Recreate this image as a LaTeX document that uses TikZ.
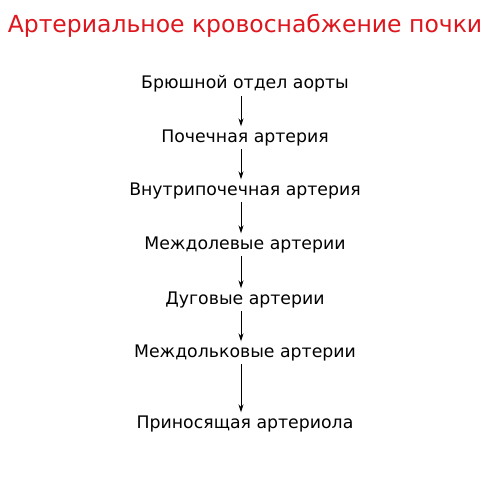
\documentclass[tikz,border=0pt]{standalone}
\usepackage{fontspec}
\setmainfont{DejaVu Sans}
\usetikzlibrary{arrows.meta}
\definecolor{titlered}{RGB}{222,22,30}
\tikzset{
  lbl/.style={font=\fontsize{17.3}{19}\selectfont, text height=12.5pt, text depth=4pt, inner xsep=0pt, inner ysep=3pt, anchor=base},
  conn/.style={-{Stealth[length=8pt,width=5pt]}, line width=0.8pt, black}
}
\begin{document}
\begin{tikzpicture}[x=1pt,y=-1pt]
\useasboundingbox (0,0) rectangle (500,500);
\fill[white] (0,0) rectangle (500,500);
\node[font=\fontsize{23.5}{26}\selectfont, text=titlered, inner sep=0pt, anchor=base] (title) at (245,33) {Артериальное кровоснабжение почки};
\node[lbl] (n1) at (245,89) {Брюшной отдел аорты};
\node[lbl] (n2) at (245,142) {Почечная артерия};
\node[lbl] (n3) at (245,195) {Внутрипочечная артерия};
\node[lbl] (n4) at (245,249) {Междолевые артерии};
\node[lbl] (n5) at (245,304) {Дуговые артерии};
\node[lbl] (n6) at (245,357) {Междольковые артерии};
\node[lbl] (n7) at (245,428) {Приносящая артериола};
\foreach \a/\b in {n1/n2,n2/n3,n3/n4,n4/n5,n5/n6,n6/n7}
  \draw[conn] ([xshift=-4pt]\a.south) -- ([xshift=-4pt]\b.north);
\end{tikzpicture}
\end{document}
